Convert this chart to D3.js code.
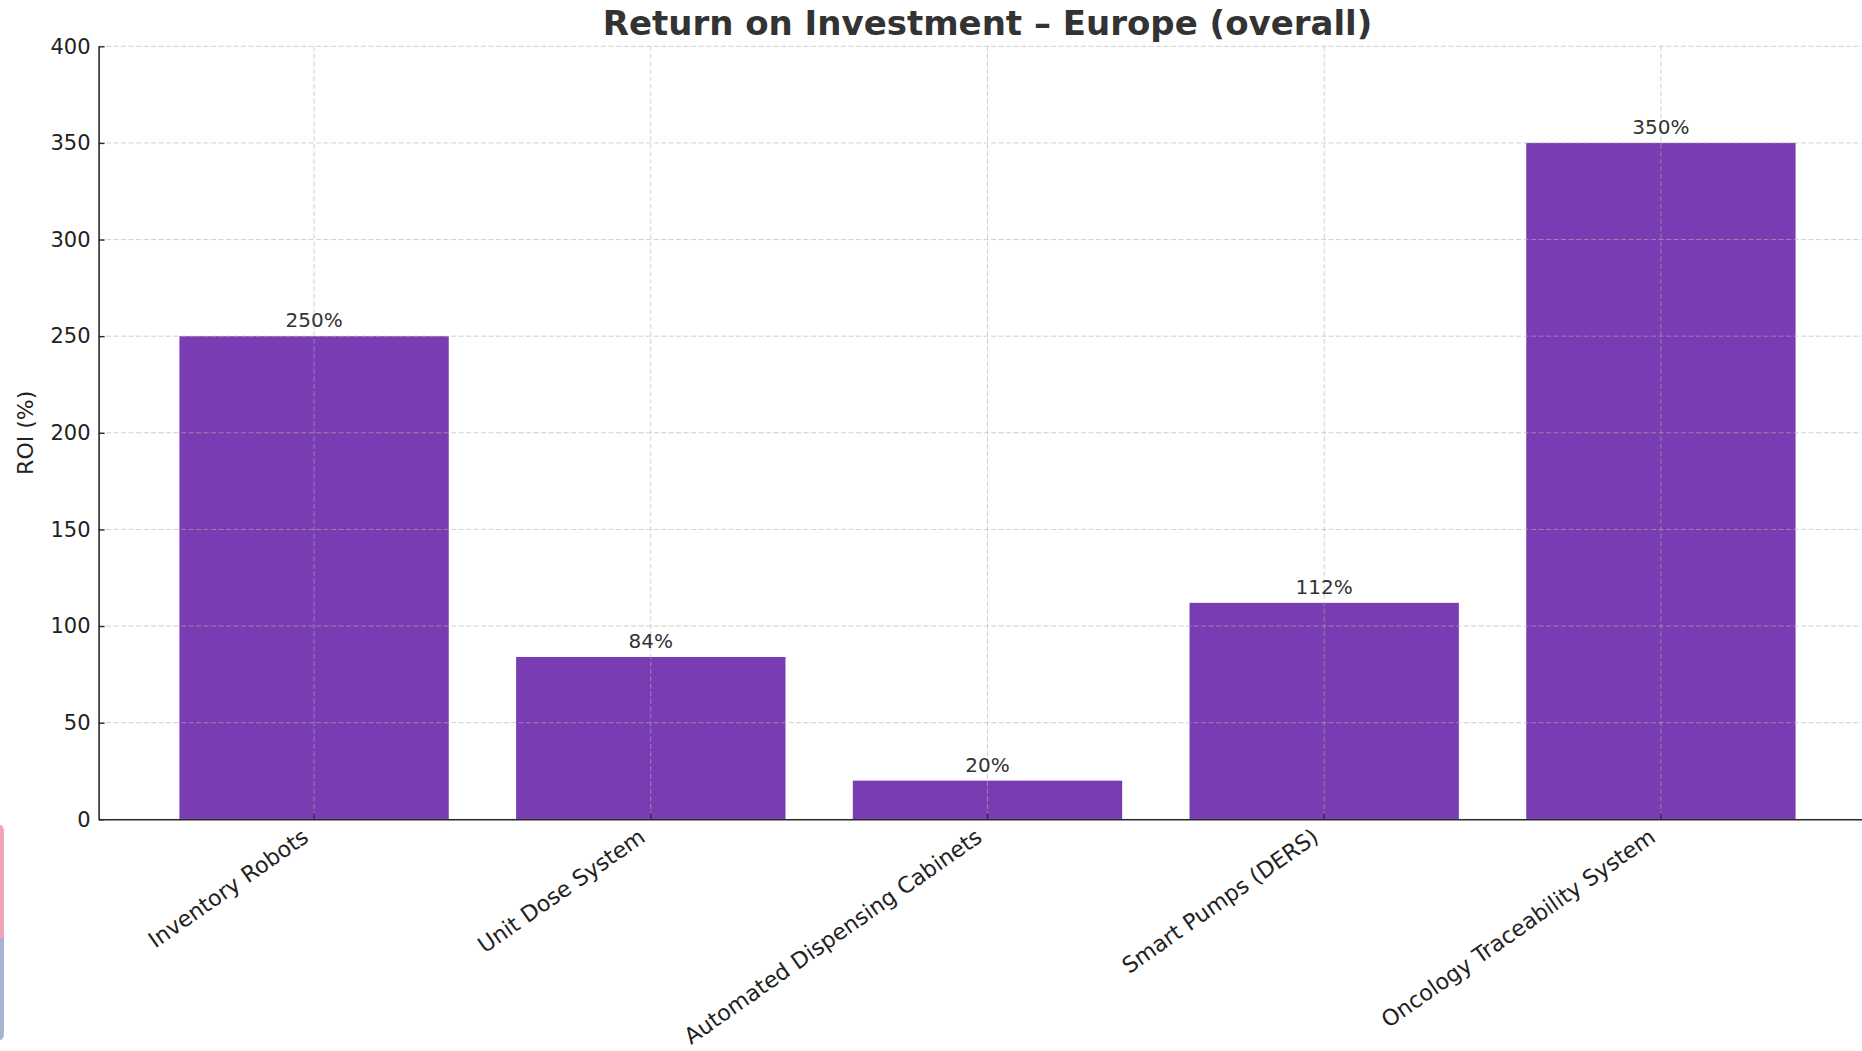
<!DOCTYPE html>
<html>
<head>
<meta charset="utf-8">
<script src="https://cdn.jsdelivr.net/npm/d3@7"></script>
<style>
  html, body { margin: 0; padding: 0; background: #ffffff; }
  svg { display: block; font-family: "DejaVu Sans", sans-serif; }
</style>
</head>
<body>
<svg id="chart" width="1862" height="1051"></svg>
<script>
// ROI per technology, Europe overall
const categories = [
  "Inventory Robots",
  "Unit Dose System",
  "Automated Dispensing Cabinets",
  "Smart Pumps (DERS)",
  "Oncology Traceability System"
];
const roiValues = [250, 84, 20, 112, 350];
const yTicks = [0, 50, 100, 150, 200, 250, 300, 350, 400];
const titleText = "Return on Investment \u2013 Europe (overall)";
const yLabelText = "ROI (%)";

const plot = { left: 98.6, right: 1876.4, top: 46.3, bottom: 819.3 };
const barColor = "#7a3cb3";
const textColor = "#333333";
const axisColor = "#2b2b2b";

const svg = d3.select("#chart");

const x = d3.scaleBand()
  .domain(categories)
  .range([plot.left, plot.right])
  .paddingInner(0.2)
  .paddingOuter(0.24);

const y = d3.scaleLinear()
  .domain([0, 400])
  .range([plot.bottom, plot.top]);

const data = categories.map((c, i) => ({ name: c, value: roiValues[i] }));

// bars
svg.append("g")
  .selectAll("rect")
  .data(data)
  .join("rect")
  .attr("x", d => x(d.name))
  .attr("y", d => y(d.value))
  .attr("width", x.bandwidth())
  .attr("height", d => y(0) - y(d.value))
  .attr("fill", barColor);

// dashed grid, drawn over the bars
const grid = svg.append("g")
  .attr("stroke", "#b0b0b0")
  .attr("stroke-opacity", 0.6)
  .attr("stroke-width", 1)
  .attr("stroke-dasharray", "5,2.5");

grid.selectAll("line.h")
  .data(yTicks)
  .join("line")
  .attr("class", "h")
  .attr("x1", plot.left)
  .attr("x2", plot.right)
  .attr("y1", d => y(d))
  .attr("y2", d => y(d));

grid.selectAll("line.v")
  .data(categories)
  .join("line")
  .attr("class", "v")
  .attr("x1", d => x(d) + x.bandwidth() / 2)
  .attr("x2", d => x(d) + x.bandwidth() / 2)
  .attr("y1", plot.top)
  .attr("y2", plot.bottom);

// value labels
svg.append("g")
  .selectAll("text")
  .data(data)
  .join("text")
  .attr("x", d => x(d.name) + x.bandwidth() / 2)
  .attr("y", d => y(d.value) - 9)
  .attr("text-anchor", "middle")
  .attr("font-size", 20)
  .attr("fill", textColor)
  .text(d => d.value + "%");

// y axis
const yAxis = d3.axisLeft(y)
  .tickValues(yTicks)
  .tickSizeInner(-6)
  .tickSizeOuter(0)
  .tickPadding(8);

const gy = svg.append("g")
  .attr("transform", `translate(${plot.left},0)`)
  .call(yAxis);
gy.select(".domain").attr("stroke", axisColor).attr("stroke-width", 1.6);
gy.selectAll(".tick line").attr("stroke", axisColor).attr("stroke-width", 1.4);
gy.selectAll(".tick text")
  .attr("font-size", 21)
  .attr("fill", "#222")
  .attr("font-family", "DejaVu Sans, sans-serif");

// x axis
const xAxis = d3.axisBottom(x)
  .tickSizeInner(-6)
  .tickSizeOuter(0)
  .tickPadding(0);

const gx = svg.append("g")
  .attr("transform", `translate(0,${plot.bottom})`)
  .call(xAxis);
gx.select(".domain").attr("stroke", axisColor).attr("stroke-width", 1.6);
gx.selectAll(".tick line").attr("stroke", axisColor).attr("stroke-width", 1.4);
gx.selectAll(".tick text")
  .attr("font-size", 22.2)
  .attr("fill", "#222")
  .attr("font-family", "DejaVu Sans, sans-serif")
  .attr("text-anchor", "end")
  .attr("dy", null)
  .attr("y", 0)
  .attr("x", 0)
  .attr("transform", "translate(-4,21) rotate(-35)");

// y axis title
svg.append("text")
  .attr("transform", `translate(33,${(plot.top + plot.bottom) / 2}) rotate(-90)`)
  .attr("text-anchor", "middle")
  .attr("font-size", 22)
  .attr("fill", "#222")
  .text(yLabelText);

// chart title
svg.append("text")
  .attr("x", (plot.left + plot.right) / 2)
  .attr("y", 35)
  .attr("text-anchor", "middle")
  .attr("font-size", 34)
  .attr("font-weight", "bold")
  .attr("fill", textColor)
  .text(titleText);

// small rounded tab at the lower-left edge
const tab = svg.append("g");
tab.append("path")
  .attr("d", "M0,825 L0,938 L4,938 L4,833 Q4,825 0,825 Z")
  .attr("fill", "#f2a3b6");
tab.append("path")
  .attr("d", "M0,938 L0,1040 Q4,1040 4,1032 L4,938 Z")
  .attr("fill", "#a8b2d3");
</script>
</body>
</html>
